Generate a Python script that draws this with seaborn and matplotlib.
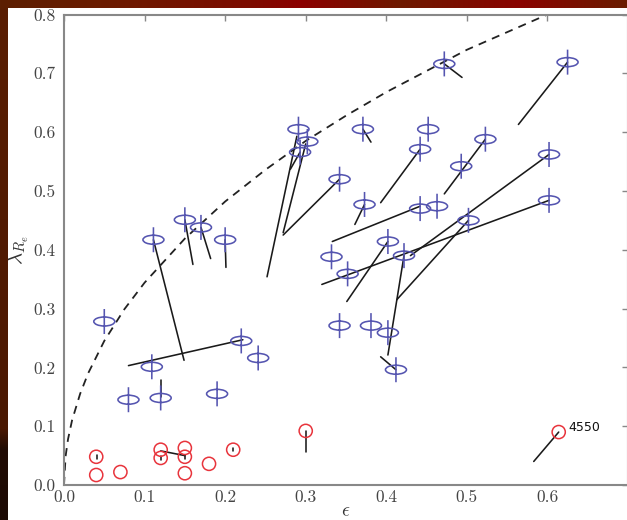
import numpy as np
import matplotlib
matplotlib.use("Agg")
import matplotlib.pyplot as plt
import seaborn as sns
import pandas as pd
from matplotlib.path import Path
from matplotlib.markers import MarkerStyle
import matplotlib.transforms as mtransforms

# ---------------- data ----------------
fast_eps = [0.050, 0.080, 0.109, 0.120, 0.111, 0.150, 0.170, 0.200, 0.190, 0.220,
            0.241, 0.291, 0.293, 0.302, 0.342, 0.332, 0.352, 0.342, 0.371, 0.373,
            0.381, 0.402, 0.402, 0.422, 0.412, 0.442, 0.452, 0.442, 0.463, 0.493,
            0.523, 0.502, 0.472, 0.602, 0.602, 0.625]
fast_lam = [0.278, 0.145, 0.201, 0.148, 0.417, 0.451, 0.438, 0.417, 0.155, 0.245,
            0.216, 0.605, 0.566, 0.584, 0.520, 0.388, 0.359, 0.271, 0.605, 0.477,
            0.271, 0.414, 0.259, 0.390, 0.196, 0.571, 0.605, 0.470, 0.474, 0.542,
            0.588, 0.450, 0.716, 0.562, 0.484, 0.719]

slow_eps = [0.04, 0.04, 0.07, 0.12, 0.12, 0.15, 0.15, 0.15, 0.18, 0.21, 0.30, 0.614]
slow_lam = [0.048, 0.017, 0.022, 0.060, 0.046, 0.063, 0.048, 0.020, 0.036, 0.060, 0.092, 0.090]

seg_eps0 = [0.111, 0.080, 0.150, 0.170, 0.200, 0.289, 0.300, 0.293, 0.272, 0.371,
            0.373, 0.442, 0.523, 0.625, 0.472, 0.602, 0.333, 0.320, 0.351, 0.413,
            0.422, 0.393, 0.300, 0.614, 0.120, 0.120, 0.041, 0.120, 0.150, 0.210]
seg_lam0 = [0.417, 0.203, 0.451, 0.438, 0.417, 0.593, 0.580, 0.566, 0.425, 0.605,
            0.477, 0.571, 0.588, 0.719, 0.716, 0.562, 0.414, 0.341, 0.312, 0.315,
            0.390, 0.218, 0.092, 0.090, 0.058, 0.178, 0.051, 0.049, 0.051, 0.063]
seg_eps1 = [0.149, 0.222, 0.160, 0.182, 0.201, 0.252, 0.272, 0.281, 0.342, 0.381,
            0.361, 0.393, 0.472, 0.564, 0.494, 0.430, 0.442, 0.602, 0.402, 0.502,
            0.402, 0.412, 0.300, 0.583, 0.150, 0.120, 0.041, 0.120, 0.150, 0.210]
seg_lam1 = [0.212, 0.247, 0.375, 0.385, 0.370, 0.354, 0.429, 0.537, 0.520, 0.583,
            0.443, 0.480, 0.495, 0.613, 0.693, 0.390, 0.474, 0.484, 0.414, 0.450,
            0.221, 0.196, 0.056, 0.040, 0.050, 0.150, 0.045, 0.043, 0.045, 0.057]

curve_eps = [0.0, 0.002, 0.005, 0.01, 0.02, 0.03, 0.05, 0.075, 0.1, 0.15, 0.2,
             0.25, 0.3, 0.35, 0.4, 0.5, 0.6, 0.7]
curve_lam = [0.0, 0.049, 0.078, 0.110, 0.155, 0.190, 0.245, 0.299, 0.344, 0.419,
             0.482, 0.536, 0.585, 0.628, 0.668, 0.740, 0.800, 0.859]

xticks = [0.0, 0.1, 0.2, 0.3, 0.4, 0.5, 0.6, 0.7]
xtick_labels = ["0.0", "0.1", "0.2", "0.3", "0.4", "0.5", "0.6", ""]
yticks = [0.0, 0.1, 0.2, 0.3, 0.4, 0.5, 0.6, 0.7, 0.8]
ytick_labels = ["0.0", "0.1", "0.2", "0.3", "0.4", "0.5", "0.6", "0.7", "0.8"]

note_text = "4550"
note_eps, note_lam = 0.626, 0.097

# ---------------- figure ----------------
sns.set_theme(style="white")
plt.rcParams["font.family"] = ["cmr10", "DejaVu Serif"]
plt.rcParams["mathtext.fontset"] = "cm"
plt.rcParams["axes.formatter.use_mathtext"] = True

W, H = 627, 520
fig = plt.figure(figsize=(W / 100, H / 100), dpi=100, facecolor="white")

# decorative slide border (top and left bands)
xs = np.arange(W)
stops_x = [0, 100, 250, 300, 400, 520, 627]
stops_c = np.array([[0x5c, 0x1f, 0x02], [0x6b, 0x1c, 0x00], [0x7d, 0x0c, 0x00],
                    [0x8c, 0x00, 0x00], [0x6e, 0x1a, 0x00], [0x8a, 0x03, 0x00],
                    [0x6a, 0x1d, 0x00]]) / 255.0
top = np.stack([np.interp(xs, stops_x, stops_c[:, k]) for k in range(3)], axis=-1)
top_band = np.repeat(top[None, :, :], 8, axis=0)
fig.figimage(top_band, xo=0, yo=H - 8, zorder=0)
ys = np.arange(H - 8)
left_stops_y = [0, 420, 440, 512]
left_stops_c = np.array([[0x5a, 0x1e, 0x02], [0x4a, 0x18, 0x02],
                         [0x22, 0x0c, 0x04], [0x1c, 0x0a, 0x04]]) / 255.0
left = np.stack([np.interp(ys, left_stops_y, left_stops_c[:, k]) for k in range(3)], axis=-1)
left_band = np.repeat(left[:, None, :], 8, axis=1)
fig.figimage(left_band, xo=0, yo=0, zorder=0)

ax = fig.add_axes([64 / W, 35 / H, 564 / W, 470.5 / H])
ax.set_facecolor("none")

# dashed boundary curve
sns.lineplot(x=curve_eps, y=curve_lam, ax=ax, color="#222222", lw=1.3,
             linestyle=(0, (4.5, 3.5)), sort=False, zorder=2)

# segments
seg_df = pd.DataFrame({
    "eps": np.concatenate([seg_eps0, seg_eps1]),
    "lam": np.concatenate([seg_lam0, seg_lam1]),
    "seg": np.concatenate([np.arange(len(seg_eps0)), np.arange(len(seg_eps0))]),
    "order": [0] * len(seg_eps0) + [1] * len(seg_eps0),
}).sort_values(["seg", "order"])
sns.lineplot(data=seg_df, x="eps", y="lam", units="seg", estimator=None, sort=False,
             color="#1a1a1a", lw=1.15, ax=ax, zorder=3)

# phi-like marker: ellipse + vertical bar
ell = mtransforms.Affine2D().scale(0.84, 0.36).transform_path(Path.unit_circle())
vbar = Path([[0, -1], [0, 1]], [Path.MOVETO, Path.LINETO])
phi = Path.make_compound_path(ell, vbar)

sns.scatterplot(x=fast_eps, y=fast_lam, ax=ax, marker=MarkerStyle(phi), s=324,
                facecolor="none", edgecolor="#5555b0", linewidth=1.15, zorder=4)
sns.scatterplot(x=slow_eps, y=slow_lam, ax=ax, marker="o", s=90,
                facecolor="none", edgecolor="#e8343c", linewidth=1.1, zorder=4)

ax.text(note_eps, note_lam, note_text, fontsize=9, family="DejaVu Sans",
        ha="left", va="center", color="#111111")

ax.set_xlim(0, 0.7)
ax.set_ylim(0, 0.8)
ax.set_xticks(xticks)
ax.set_xticklabels(xtick_labels)
ax.set_yticks(yticks)
ax.set_yticklabels(ytick_labels)
ax.tick_params(direction="in", length=4.5, width=1, color="#888888",
               top=True, right=True, labelsize=12.5, labelcolor="#444444")
ax.tick_params(axis="x", pad=3.5)
ax.tick_params(axis="y", pad=6)
for sp in ax.spines.values():
    sp.set_color("#888888")
    sp.set_linewidth(1.5)

ax.set_ylabel(r"$\lambda_{R_e}$", fontsize=15, color="#333333")
ax.yaxis.set_label_coords(-0.058, 0.5)
ax.set_xlabel(r"$\epsilon$", fontsize=14, color="#333333")
ax.xaxis.set_label_coords(0.5, -0.036)

fig.savefig("out.png", dpi=100, facecolor=fig.get_facecolor())
